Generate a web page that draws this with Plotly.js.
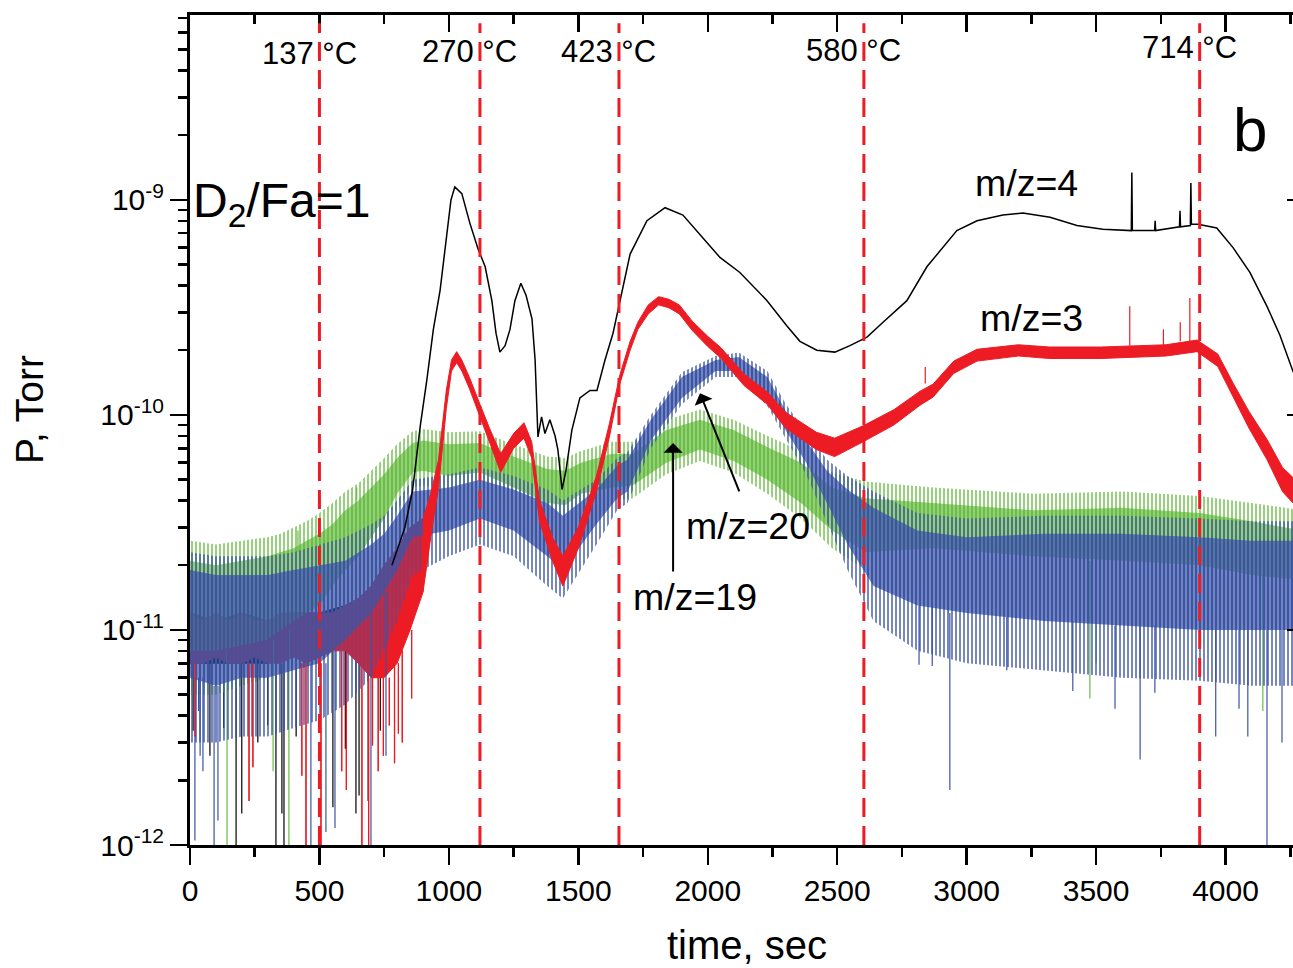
<!DOCTYPE html>
<html><head><meta charset="utf-8">
<script src="https://cdn.plot.ly/plotly-3.0.1.min.js"></script>
<style>html,body{margin:0;padding:0;overflow:hidden;background:#fff}#chart{width:1310px;height:968px}</style>
</head><body><div id="chart"></div><script>
// ---------------- data (time in s, pressure in Torr) ----------------
// m/z=4 (black): clean curve after ~780 s
const m4Time = [780,830,860,890,915,940,966,993,1008,1023,1050,1081,1113,1140,1166,1182,1197,1217,1236,1255,1278,1298,1321,1333,1340,1344,1358,1371,1390,1410,1421,1437,1452,1475,1506,1545,1572,1603,1634,1661,1700,1765,1835,1904,1981,2047,2124,2229,2305,2356,2421,2491,2549,2615,2677,2769,2847,2908,2962,3040,3140,3217,3322,3426,3526,3636,3638,3640,3726,3728,3730,3822,3824,3826,3864,3866,3868,3894,3966,4029,4094,4160,4210,4260,4300];
const m4P = [2.0e-11,3.0e-11,4.5e-11,9.0e-11,1.46e-10,2.5e-10,3.8e-10,6.8e-10,1.0e-9,1.15e-9,1.07e-9,7.8e-10,5.9e-10,4.9e-10,3.4e-10,2.4e-10,1.96e-10,2.1e-10,2.5e-10,3.4e-10,4.1e-10,3.6e-10,2.8e-10,1.8e-10,1.05e-10,7.9e-11,9.8e-11,8.2e-11,9.5e-11,8.0e-11,6.9e-11,4.5e-11,5.5e-11,8.5e-11,1.2e-10,1.3e-10,1.3e-10,1.8e-10,2.4e-10,3.4e-10,5.6e-10,8.0e-10,9.2e-10,8.5e-10,6.7e-10,5.4e-10,4.6e-10,3.4e-10,2.6e-10,2.2e-10,2.0e-10,1.96e-10,2.1e-10,2.3e-10,2.7e-10,3.4e-10,4.9e-10,6.0e-10,7.2e-10,8.0e-10,8.5e-10,8.7e-10,8.3e-10,7.6e-10,7.3e-10,7.2e-10,1.34e-9,7.2e-10,7.2e-10,8.0e-10,7.2e-10,7.5e-10,8.9e-10,7.5e-10,7.6e-10,1.2e-9,7.7e-10,7.7e-10,7.4e-10,6.0e-10,4.6e-10,3.2e-10,2.35e-10,1.6e-10,1.25e-10];
// m/z=4 noise band before the rise
const m4NoiseTime = [0,100,200,300,400,500,600,700,780];
const m4NoiseHigh = [1.2e-11,1.1e-11,1.2e-11,1.1e-11,1.2e-11,1.2e-11,1.3e-11,1.5e-11,2.0e-11];
const m4NoiseLow  = [7e-12,7e-12,7e-12,7e-12,7.5e-12,8e-12,1e-11,1.3e-11,1.6e-11];
const m4SpikeTime = [12,77,130,178,200,262,300,332,355,363,410,552,600,641,653,688,735];
const m4SpikeFrom = [7e-12,7e-12,7e-12,7e-12,7e-12,7e-12,7e-12,7e-12,7e-12,7e-12,7e-12,8e-12,1e-11,1e-11,1e-11,1.2e-11,1.3e-11];
const m4SpikeTo   = [3.4e-12,2.6e-12,3.5e-12,8e-13,1.4e-12,3.0e-12,3.6e-12,8e-13,1.4e-12,8e-13,3.2e-12,1.5e-12,2.8e-12,1.4e-12,1.7e-12,1.6e-12,3.4e-12];

// m/z=3 (red): noise envelope
const m3Time = [0,50,100,150,200,250,300,350,400,450,500,550,600,650,700,750,800,850,900,930,960,990,1010,1030,1050,1080,1120,1160,1200,1250,1290,1320,1350,1400,1440,1500,1570,1620,1660,1700,1730,1770,1810,1850,1890,1940,2000,2050,2140,2230,2300,2420,2490,2600,2720,2820,2870,2950,3040,3200,3320,3520,3770,3890,3970,4030,4090,4160,4220,4260,4300];
const m3High = [1.2e-11,1.1e-11,1.2e-11,1.1e-11,1.2e-11,1.1e-11,1.1e-11,1.2e-11,1.2e-11,1.2e-11,1.2e-11,1.2e-11,1.3e-11,1.4e-11,1.6e-11,2.0e-11,2.4e-11,3.0e-11,3.3e-11,4.3e-11,6.2e-11,1.3e-10,1.8e-10,1.97e-10,1.8e-10,1.49e-10,1.12e-10,8.5e-11,6.6e-11,8.2e-11,9.2e-11,7.5e-11,4.0e-11,2.7e-11,2.2e-11,3.0e-11,5.2e-11,9.1e-11,1.53e-10,2.2e-10,2.7e-10,3.25e-10,3.55e-10,3.45e-10,3.25e-10,2.73e-10,2.32e-10,2.06e-10,1.55e-10,1.28e-10,1.03e-10,8.3e-11,7.8e-11,8.9e-11,1.06e-10,1.29e-10,1.39e-10,1.78e-10,2.02e-10,2.12e-10,2.07e-10,2.07e-10,2.12e-10,2.23e-10,1.92e-10,1.4e-10,1.04e-10,7.7e-11,5.7e-11,5.1e-11,4.6e-11];
const m3Low = [7e-12,7e-12,7.5e-12,7e-12,7e-12,7.5e-12,7e-12,7e-12,7.5e-12,7e-12,7.5e-12,8e-12,8e-12,7e-12,6e-12,6e-12,7e-12,1.0e-11,1.5e-11,2.7e-11,4.6e-11,1.07e-10,1.6e-10,1.75e-10,1.6e-10,1.32e-10,9.9e-11,7.3e-11,5.4e-11,7.0e-11,7.8e-11,6.3e-11,3.2e-11,2.1e-11,1.6e-11,2.4e-11,4.4e-11,7.9e-11,1.39e-10,2.0e-10,2.5e-10,2.95e-10,3.25e-10,3.15e-10,2.95e-10,2.47e-10,2.08e-10,1.84e-10,1.37e-10,1.12e-10,8.7e-11,6.9e-11,6.4e-11,7.5e-11,9.0e-11,1.11e-10,1.21e-10,1.56e-10,1.78e-10,1.88e-10,1.83e-10,1.83e-10,1.88e-10,1.97e-10,1.68e-10,1.2e-10,8.7e-11,6.2e-11,4.4e-11,3.9e-11,3.5e-11];
const m3SpikeTime = [20,228,243,432,448,506,586,604,664,690,705,727,747,770,790,805,820,856,2840,3630,3760,3825,3862];
const m3SpikeFrom = [7e-12,7e-12,7e-12,7e-12,7e-12,7e-12,8e-12,8e-12,7e-12,6e-12,6e-12,6e-12,6e-12,6e-12,7e-12,7e-12,8e-12,1e-11,1.4e-10,2.1e-10,2.1e-10,2.2e-10,2.2e-10];
const m3SpikeTo   = [3.2e-12,1.6e-12,2.3e-12,2.1e-12,8e-13,8e-13,2.2e-12,1.8e-12,8e-13,8e-13,2.9e-12,2.2e-12,2.6e-12,3.6e-12,2.4e-12,3.3e-12,3e-12,4.8e-12,1.67e-10,3.2e-10,2.5e-10,2.7e-10,3.5e-10];

// m/z=19 (green): dense core and outer noise envelope
const m19Time = [0,100,200,300,350,400,450,500,550,600,650,700,750,800,860,900,1000,1120,1250,1380,1450,1510,1630,1710,1840,1970,2100,2230,2360,2480,2610,2870,3260,3600,3900,4100,4300];
const m19High = [2.1e-11,2.0e-11,2.1e-11,2.2e-11,2.3e-11,2.4e-11,2.6e-11,2.8e-11,3.1e-11,3.6e-11,4.0e-11,4.6e-11,5.3e-11,6.3e-11,7.4e-11,7.6e-11,7.3e-11,7.4e-11,6.4e-11,5.6e-11,5.5e-11,6.0e-11,6.6e-11,6.6e-11,8.5e-11,9.5e-11,8.5e-11,7.1e-11,6.0e-11,4.6e-11,4.1e-11,3.9e-11,3.6e-11,3.7e-11,3.5e-11,3.2e-11,2.9e-11];
const m19Low  = [8e-12,8e-12,8.5e-12,9e-12,1.0e-11,1.1e-11,1.2e-11,1.3e-11,1.6e-11,1.9e-11,2.2e-11,2.7e-11,3.3e-11,4.3e-11,5.4e-11,5.5e-11,5.2e-11,5.4e-11,4.6e-11,3.9e-11,3.8e-11,4.3e-11,4.6e-11,4.7e-11,6.0e-11,6.9e-11,6.1e-11,5.0e-11,3.9e-11,2.9e-11,2.3e-11,2.4e-11,2.2e-11,2.1e-11,2.0e-11,1.8e-11,1.7e-11];
const m19OuterHigh = [2.6e-11,2.5e-11,2.6e-11,2.7e-11,2.8e-11,3.0e-11,3.2e-11,3.5e-11,3.9e-11,4.4e-11,4.8e-11,5.5e-11,6.3e-11,7.3e-11,8.4e-11,8.6e-11,8.3e-11,8.4e-11,7.3e-11,6.4e-11,6.3e-11,6.8e-11,7.5e-11,7.5e-11,9.5e-11,1.06e-10,9.5e-11,8.0e-11,6.8e-11,5.4e-11,4.9e-11,4.6e-11,4.3e-11,4.4e-11,4.2e-11,3.9e-11,3.6e-11];
const m19OuterLow  = [5e-12,5e-12,5.5e-12,6e-12,6.5e-12,7e-12,8e-12,9e-12,1.1e-11,1.4e-11,1.7e-11,2.1e-11,2.7e-11,3.6e-11,4.6e-11,4.7e-11,4.5e-11,4.6e-11,3.9e-11,3.3e-11,3.2e-11,3.7e-11,4.0e-11,4.1e-11,5.3e-11,6.1e-11,5.4e-11,4.3e-11,3.3e-11,2.4e-11,1.9e-11,1.8e-11,1.7e-11,1.6e-11,1.5e-11,1.4e-11,1.3e-11];
const m19SpikeTime = [143,321,382,417,644,2930,3476,3500,4144];
const m19SpikeFrom = [8e-12,9e-12,1e-11,2.3e-11,4e-11,2.4e-11,2.1e-11,2.1e-11,1.8e-11];
const m19SpikeTo   = [8e-13,2.2e-12,8e-13,2.9e-11,4.6e-11,1.2e-11,4.8e-12,7e-12,4.2e-12];

// m/z=20 (blue): dense core and outer noise envelope
const m20Time = [0,100,200,300,400,500,600,700,750,800,860,1000,1120,1250,1380,1440,1570,1650,1690,1780,1900,2030,2120,2230,2300,2380,2460,2540,2640,2810,3000,3300,3600,3900,4100,4300];
const m20High = [1.9e-11,1.8e-11,1.8e-11,1.8e-11,1.9e-11,2.0e-11,2.1e-11,2.5e-11,2.8e-11,3.4e-11,4.4e-11,4.6e-11,5.0e-11,4.5e-11,3.9e-11,3.4e-11,4.5e-11,5.8e-11,6.2e-11,9.5e-11,1.5e-10,1.8e-10,1.86e-10,1.5e-10,1.05e-10,7.6e-11,5.5e-11,4.5e-11,3.7e-11,2.9e-11,2.7e-11,2.8e-11,2.8e-11,2.7e-11,2.6e-11,2.6e-11];
const m20Low  = [6e-12,5.5e-12,6e-12,6e-12,6.5e-12,7e-12,9e-12,1.2e-11,1.5e-11,1.9e-11,2.7e-11,2.9e-11,3.3e-11,2.9e-11,2.2e-11,1.9e-11,3.1e-11,4.1e-11,4.4e-11,7.6e-11,1.2e-10,1.6e-10,1.6e-10,1.2e-10,8.5e-11,6e-11,3.9e-11,2.5e-11,1.6e-11,1.3e-11,1.2e-11,1.1e-11,1.05e-11,1.0e-11,1.0e-11,1.0e-11];
const m20OuterHigh = [2.3e-11,2.2e-11,2.2e-11,2.2e-11,2.3e-11,2.5e-11,2.7e-11,3.1e-11,3.4e-11,4.0e-11,5.0e-11,5.3e-11,5.7e-11,5.2e-11,4.5e-11,4.0e-11,5.0e-11,6.3e-11,6.7e-11,1.0e-10,1.58e-10,1.88e-10,1.95e-10,1.6e-10,1.13e-10,8.3e-11,6.2e-11,5.2e-11,4.4e-11,3.5e-11,3.3e-11,3.4e-11,3.4e-11,3.3e-11,3.2e-11,3.2e-11];
const m20OuterLow  = [3e-12,3e-12,3.2e-12,3.2e-12,3.5e-12,3.8e-12,4.5e-12,6e-12,8e-12,1.1e-11,1.8e-11,2.2e-11,2.5e-11,2.2e-11,1.6e-11,1.4e-11,2.5e-11,3.6e-11,3.9e-11,7.0e-11,1.12e-10,1.5e-10,1.5e-10,1.1e-10,7.8e-11,5.3e-11,3.2e-11,1.9e-11,1.1e-11,8e-12,7e-12,6.5e-12,6e-12,5.8e-12,5.5e-12,5.5e-12];
const m20SpikeTime = [19,33,39,50,93,108,467,525,560,699,757,2816,2867,2935,3155,3410,3573,3670,3727,3962,4052,4086,4160,4218];
const m20SpikeFrom = [6e-12,6e-12,6e-12,6e-12,5.5e-12,5.5e-12,7e-12,7e-12,8e-12,1.2e-11,1.5e-11,1.3e-11,1.3e-11,1.2e-11,1.15e-11,1.1e-11,1.05e-11,1.05e-11,1.05e-11,1e-11,1e-11,1e-11,1e-11,1e-11];
const m20SpikeTo   = [1.05e-12,4.2e-12,2.6e-12,2.2e-12,8e-13,1.3e-12,8e-13,1.15e-12,1.2e-12,8e-13,2.6e-12,6.9e-12,6.8e-12,1.8e-12,6.5e-12,5.2e-12,4.3e-12,2.5e-12,5.1e-12,3.2e-12,4.3e-12,3.2e-12,8e-13,3.0e-12];

// temperature markers
const tempTimes  = [500, 1120, 1657, 2603, 3900];
const tempLabels = ['137 °C', '270 °C', '423 °C', '580 °C', '714 °C'];

// axis ticks
const xTickVals = [0,500,1000,1500,2000,2500,3000,3500,4000];
const xTickText = ['0','500','1000','1500','2000','2500','3000','3500','4000'];
const xMinorVals = [250,750,1250,1750,2250,2750,3250,3750,4250];
const yTickVals = [1e-12,1e-11,1e-10,1e-9];
const yTickText = ['10<sup>-12</sup>','10<sup>-11</sup>','10<sup>-10</sup>','10<sup>-9</sup>'];
const yMinorVals = [2e-12,3e-12,4e-12,5e-12,6e-12,7e-12,8e-12,9e-12,2e-11,3e-11,4e-11,5e-11,6e-11,7e-11,8e-11,9e-11,2e-10,3e-10,4e-10,5e-10,6e-10,7e-10,8e-10,9e-10,2e-9,3e-9,4e-9,5e-9,6e-9,7e-9];

// ---------------- drawing ----------------
const C4 = '#000000', C3 = '#ed1c24', C19 = '#6abd45', C20 = '#3b54a5';
const FONT = 'Liberation Sans, Arial, sans-serif';

function band(t, hi, lo, color, keep, pat) {
  const idx = t.map((v, i) => i).filter(i => keep(t[i]));
  const tt = idx.map(i => t[i]), hh = idx.map(i => hi[i]), ll = idx.map(i => lo[i]);
  const tr = {type: 'scatter', mode: 'lines', x: tt.concat(tt.slice().reverse()),
    y: hh.concat(ll.slice().reverse()), fill: 'toself', fillcolor: color,
    line: {color: color, width: pat ? 0 : 1}, hoverinfo: 'skip', showlegend: false};
  if (pat) {
    tr.fillcolor = 'rgba(255,255,255,0)';
    tr.fillpattern = {shape: '|', fgcolor: color, bgcolor: 'rgba(255,255,255,0)', size: pat.size, solidity: pat.solidity};
  }
  return tr;
}
function spikes(t, from, to, color) {
  const x = [], y = [];
  t.forEach((v, i) => { x.push(v, v, null); y.push(from[i], to[i], null); });
  return {type: 'scatter', mode: 'lines', x: x, y: y, line: {color: color, width: 1.2},
    hoverinfo: 'skip', showlegend: false};
}
const all = () => true;
const OUTER = {size: 4, solidity: 0.35};
const CORE = {size: 4, solidity: 0.86};

const traces = [
  band(m4NoiseTime, m4NoiseHigh, m4NoiseLow, C4, all),
  spikes(m4SpikeTime, m4SpikeFrom, m4SpikeTo, C4),
  band(m3Time, m3High, m3Low, C3, v => v <= 900),
  spikes(m3SpikeTime.filter(v => v < 1000), m3SpikeFrom, m3SpikeTo, C3),
  band(m19Time, m19OuterHigh, m19OuterLow, C19, all, OUTER),
  band(m19Time, m19High, m19Low, C19, all, CORE),
  spikes(m19SpikeTime, m19SpikeFrom, m19SpikeTo, C19),
  band(m20Time, m20OuterHigh, m20OuterLow, C20, all, OUTER),
  band(m20Time, m20High, m20Low, C20, all, CORE),
  spikes(m20SpikeTime, m20SpikeFrom, m20SpikeTo, C20),
  band(m3Time, m3High, m3Low, C3, v => v >= 900),
  spikes(m3SpikeTime, m3SpikeFrom, m3SpikeTo, C3),
  {type: 'scatter', mode: 'lines', x: m4Time, y: m4P, line: {color: C4, width: 1.5},
   hoverinfo: 'skip', showlegend: false},
  {type: 'scatter', mode: 'lines', x: [null], y: [null], xaxis: 'x2', yaxis: 'y2',
   hoverinfo: 'skip', showlegend: false}
];

const XR = [0, 4303], YR = [-12, -8.14];
const axisCommon = {showline: true, linecolor: '#000', linewidth: 3, showgrid: false, zeroline: false,
  tickcolor: '#000', tickwidth: 2.5, tickfont: {family: FONT, size: 30, color: '#000'}};

const labelY = [0.954, 0.9566, 0.9566, 0.9578, 0.9614];
const annotations = tempLabels.map((s, i) => ({
  x: tempTimes[i], xref: 'x', y: labelY[i], yref: 'paper', text: s, showarrow: false,
  xanchor: 'center', yanchor: 'middle', xshift: -10, font: {family: FONT, size: 31, color: '#000'}
}));
const lg = Math.log10;
annotations.push(
  {x: -0.1445, xref: 'paper', y: 0.524, yref: 'paper', text: 'P, Torr', textangle: -90, showarrow: false,
   xanchor: 'center', yanchor: 'middle', font: {family: FONT, size: 39, color: '#000'}},
  {x: 352, xref: 'x', y: lg(1e-9), yref: 'y', text: 'D<sub>2</sub>/Fa=1', showarrow: false,
   xanchor: 'center', yanchor: 'middle', yshift: -4, font: {family: FONT, size: 48, color: '#000'}},
  {x: 4094, xref: 'x', y: lg(2.12e-9), yref: 'y', text: 'b', showarrow: false,
   xanchor: 'center', yanchor: 'middle', font: {family: FONT, size: 62, color: '#000'}},
  {x: 3233, xref: 'x', y: lg(1.2e-9), yref: 'y', text: 'm/z=4', showarrow: false,
   font: {family: FONT, size: 37.5, color: '#000'}},
  {x: 3252, xref: 'x', y: lg(2.83e-10), yref: 'y', text: 'm/z=3', showarrow: false,
   font: {family: FONT, size: 37.5, color: '#000'}},
  {x: 2155, xref: 'x', y: lg(3.05e-11), yref: 'y', text: 'm/z=20', showarrow: false,
   font: {family: FONT, size: 37.5, color: '#000'}},
  {x: 1950, xref: 'x', y: lg(1.42e-11), yref: 'y', text: 'm/z=19', showarrow: false,
   font: {family: FONT, size: 37.5, color: '#000'}},
  {x: 1970, xref: 'x', y: lg(1.26e-10), yref: 'y', ax: 2124, axref: 'x', ay: lg(4.34e-11), ayref: 'y',
   text: '', showarrow: true, arrowhead: 1, arrowsize: 1.6, arrowwidth: 2, arrowcolor: '#000'},
  {x: 1866, xref: 'x', y: lg(7.4e-11), yref: 'y', ax: 1866, axref: 'x', ay: lg(1.84e-11), ayref: 'y',
   text: '', showarrow: true, arrowhead: 1, arrowsize: 1.6, arrowwidth: 2, arrowcolor: '#000'}
);

const shapes = tempTimes.map(t => ({type: 'line', xref: 'x', yref: 'paper', x0: t, x1: t, y0: 0, y1: 0.99,
  line: {color: C3, width: 3, dash: '19px,9px'}, layer: 'above'}));

const layout = {
  width: 1310, height: 968, margin: {l: 190, r: 6, t: 15, b: 123},
  paper_bgcolor: '#fff', plot_bgcolor: '#fff', showlegend: false,
  font: {family: FONT, color: '#000'},
  xaxis: Object.assign({}, axisCommon, {range: XR, tickmode: 'array', tickvals: xTickVals, ticktext: xTickText,
    ticks: 'outside', ticklen: 17,
    minor: {tickmode: 'array', tickvals: xMinorVals, ticks: 'outside', ticklen: 9, tickwidth: 2.5, tickcolor: '#000'},
    title: {text: 'time, sec', font: {family: FONT, size: 40, color: '#000'}, standoff: 25}}),
  yaxis: Object.assign({}, axisCommon, {type: 'log', range: YR, tickmode: 'array', tickvals: yTickVals, ticktext: yTickText,
    ticks: 'outside', ticklen: 17,
    minor: {tickmode: 'array', tickvals: yMinorVals, ticks: 'outside', ticklen: 9, tickwidth: 2.5, tickcolor: '#000'}}),
  xaxis2: Object.assign({}, axisCommon, {overlaying: 'x', side: 'top', anchor: 'y', range: XR,
    tickmode: 'array', tickvals: xTickVals, ticks: 'inside', ticklen: 17, showticklabels: false,
    minor: {tickmode: 'array', tickvals: xMinorVals, ticks: 'inside', ticklen: 9, tickwidth: 2.5, tickcolor: '#000'}}),
  yaxis2: Object.assign({}, axisCommon, {overlaying: 'y', side: 'right', anchor: 'x', type: 'log', range: YR,
    tickmode: 'array', tickvals: yTickVals, ticks: 'inside', ticklen: 17, showticklabels: false,
    minor: {tickmode: 'array', tickvals: yMinorVals, ticks: 'inside', ticklen: 9, tickwidth: 2.5, tickcolor: '#000'}}),
  annotations: annotations, shapes: shapes
};

Plotly.newPlot('chart', traces, layout, {staticPlot: true, displayModeBar: false});
</script></body></html>
